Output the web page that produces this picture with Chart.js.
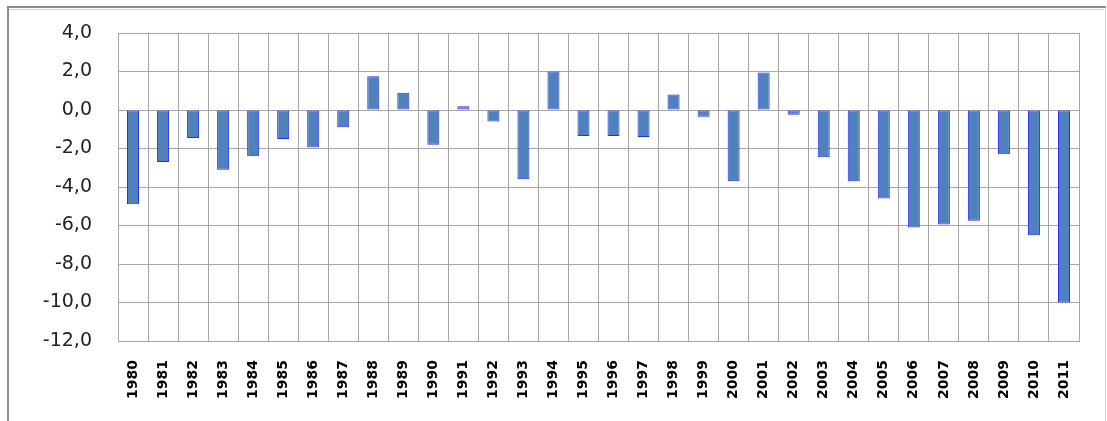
<!DOCTYPE html>
<html>
<head>
<meta charset="utf-8">
<script src="https://cdn.jsdelivr.net/npm/chart.js@4"></script>
<style>
html,body{margin:0;padding:0;background:#fff;}
#wrap{width:1107px;height:421px;position:relative;}
</style>
</head>
<body>
<div id="wrap"><canvas id="c" width="1107" height="421"></canvas></div>
<script>
const categories = ['1980','1981','1982','1983','1984','1985','1986','1987','1988','1989','1990','1991','1992','1993','1994','1995','1996','1997','1998','1999','2000','2001','2002','2003','2004','2005','2006','2007','2008','2009','2010','2011'];
const values = [-4.9,-2.7,-1.45,-3.1,-2.4,-1.5,-1.95,-0.9,1.75,0.9,-1.8,0.2,-0.6,-3.6,2.0,-1.35,-1.35,-1.4,0.8,-0.35,-3.7,1.95,-0.25,-2.45,-3.7,-4.6,-6.1,-5.95,-5.75,-2.3,-6.5,-10.0];
const yMin = -12, yMax = 4, yStep = 2;

const frame = {
  id: 'frame',
  beforeDraw(chart) {
    const ctx = chart.ctx;
    ctx.save();
    ctx.fillStyle = '#fff';
    ctx.fillRect(0, 0, chart.width, chart.height);
    ctx.strokeStyle = '#8c8c8c';
    ctx.lineWidth = 2;
    ctx.beginPath();
    ctx.moveTo(8, 430); ctx.lineTo(8, 7); ctx.lineTo(1106, 7);
    ctx.stroke();
    ctx.strokeStyle = '#d0d0d0';
    ctx.lineWidth = 1;
    ctx.beginPath();
    ctx.moveTo(9, 9.5); ctx.lineTo(1104, 9.5);
    ctx.moveTo(1105.5, 8); ctx.lineTo(1105.5, 430);
    ctx.stroke();
    ctx.restore();
  }
};

new Chart(document.getElementById('c'), {
  type: 'bar',
  data: {
    labels: categories,
    datasets: [{
      data: values,
      backgroundColor: '#4F81BD',
      borderColor: '#2a2aff',
      borderWidth: 1,
      borderSkipped: false,
      categoryPercentage: 1.0,
      barPercentage: 0.4
    }]
  },
  options: {
    responsive: false,
    animation: false,
    devicePixelRatio: 1,
    layout: { padding: { top: 33, right: 28, left: 0, bottom: 0 } },
    plugins: { legend: { display: false }, tooltip: { enabled: false } },
    scales: {
      x: {
        offset: true,
        grid: { offset: true, color: '#a6a6a6', lineWidth: 1, drawTicks: false },
        border: { color: '#a6a6a6', width: 1 },
        ticks: {
          minRotation: 90, maxRotation: 90, autoSkip: false,
          padding: 19,
          color: '#000',
          font: { family: 'DejaVu Sans', size: 14, weight: 'bold' }
        },
        afterFit(s) { s.height = 421 - 341; s.paddingLeft = 0; s.paddingRight = 0; }
      },
      y: {
        min: yMin, max: yMax,
        grid: { color: '#a6a6a6', lineWidth: 1, drawTicks: false },
        border: { color: '#a6a6a6', width: 1 },
        ticks: {
          stepSize: yStep,
          padding: 26,
          color: '#222',
          font: { family: 'DejaVu Sans', size: 19 },
          callback: v => v.toFixed(1).replace('.', ',')
        },
        afterFit(s) { s.width = 118; s.paddingTop = 0; s.paddingBottom = 0; }
      }
    }
  },
  plugins: [frame]
});
</script>
</body>
</html>
